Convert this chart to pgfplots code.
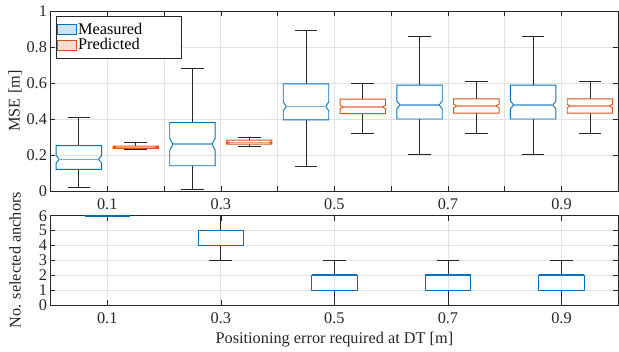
\documentclass[border=0pt]{standalone}
\usepackage{fontspec}
\setmainfont{Liberation Serif}
\usepackage{pgfplots}
\pgfplotsset{compat=1.18}
\definecolor{mblue}{RGB}{0,114,189}
\definecolor{morange}{RGB}{217,83,25}
\definecolor{axgray}{RGB}{38,38,38}
\definecolor{gridgray}{RGB}{226,226,226}

\pgfplotsset{
  whisk/.style={draw=axgray, line width=0.8pt, forget plot},
  mystyle/.style={
    scale only axis, width=567.8pt, xmin=0, xmax=10, clip=false,
    tick align=inside, major tick length=5pt,
    tick style={axgray, line width=0.6pt},
    axis line style={axgray, line width=0.8pt},
    grid=major, grid style={gridgray, line width=0.7pt},
    tick label style={font=\fontsize{16.3}{19}\selectfont, text=axgray},
    label style={font=\fontsize{16.3}{19}\selectfont, text=axgray},
    xticklabel style={yshift=-4.6pt},
    /pgf/number format/assume math mode=true,
    ylabel style={at={(axis description cs:-0.0625,0.5)}, anchor=center},
  }
}

% notched box: pos, colour, lower whisker, q1, median, q3, upper whisker, notch half-height
\newcommand{\nbox}[8]{%
  \pgfmathsetmacro\bxL{#1-0.4}\pgfmathsetmacro\bxR{#1+0.4}%
  \pgfmathsetmacro\bxLi{#1-0.345}\pgfmathsetmacro\bxRi{#1+0.345}%
  \pgfmathsetmacro\bxCL{#1-0.2}\pgfmathsetmacro\bxCR{#1+0.2}%
  \pgfmathsetmacro\bxNL{#5-#8}\pgfmathsetmacro\bxNH{#5+#8}%
  \addplot[whisk] coordinates {(#1,#4) (#1,#3)};
  \addplot[whisk] coordinates {(#1,#6) (#1,#7)};
  \addplot[whisk] coordinates {(\bxCL,#3) (\bxCR,#3)};
  \addplot[whisk] coordinates {(\bxCL,#7) (\bxCR,#7)};
  \addplot[draw=#2, line width=0.9pt, forget plot] coordinates {(\bxL,#4) (\bxR,#4) (\bxR,\bxNL) (\bxRi,#5) (\bxR,\bxNH) (\bxR,#6) (\bxL,#6) (\bxL,\bxNH) (\bxLi,#5) (\bxL,\bxNL)} -- cycle;
  \addplot[draw=#2!55, line width=1.6pt, forget plot] coordinates {(\bxLi,#5) (\bxRi,#5)};
}
% plain box: pos, colour, lower whisker, q1, median, q3, upper whisker
\newcommand{\pbox}[7]{%
  \pgfmathsetmacro\bxL{#1-0.4}\pgfmathsetmacro\bxR{#1+0.4}%
  \pgfmathsetmacro\bxCL{#1-0.2}\pgfmathsetmacro\bxCR{#1+0.2}%
  \addplot[whisk] coordinates {(#1,#4) (#1,#3)};
  \addplot[whisk] coordinates {(#1,#6) (#1,#7)};
  \addplot[whisk] coordinates {(\bxCL,#3) (\bxCR,#3)};
  \addplot[whisk] coordinates {(\bxCL,#7) (\bxCR,#7)};
  \addplot[draw=#2, line width=0.9pt, forget plot] coordinates {(\bxL,#4) (\bxR,#4) (\bxR,#6) (\bxL,#6)} -- cycle;
  \addplot[draw=#2, line width=1.8pt, forget plot] coordinates {(\bxL,#5) (\bxR,#5)};
}

\begin{document}
\begin{tikzpicture}
\useasboundingbox (0,0) rectangle (619pt,352pt);
\begin{axis}[mystyle,
  at={(50.5pt,161pt)}, anchor=south west, height=180pt,
  ymin=0, ymax=1,
  xtick={1,2,3,4,5,6,7,8,9}, xticklabels={0.1,{},0.3,{},0.5,{},0.7,{},0.9},
  ytick={0,0.2,0.4,0.6,0.8,1}, yticklabels={0,0.2,0.4,0.6,0.8,1},
  ylabel={MSE [m]},
  legend style={at={(axis description cs:0.0097,0.972)}, anchor=north west,
    draw=axgray, line width=0.6pt, fill=white, font=\fontsize{16.3}{19}\selectfont,
    inner xsep=1pt, inner ysep=5pt, row sep=-1.5pt, cells={anchor=west},
    /tikz/every odd column/.append style={column sep=-1pt}},
  legend image code/.code={\draw[#1] (0pt,-5pt) rectangle (19pt,5pt);},
]
\addlegendimage{draw=mblue, fill=mblue!20, line width=0.8pt}
\addlegendentry{\makebox[100pt][l]{Measured}}
\addlegendimage{draw=morange, fill=morange!20, line width=0.8pt}
\addlegendentry{\makebox[100pt][l]{Predicted}}
% Measured (blue)
\nbox{0.5}{mblue}{0.022}{0.120}{0.176}{0.252}{0.409}{0.021}
\nbox{2.5}{mblue}{0.010}{0.140}{0.260}{0.380}{0.680}{0.033}
\nbox{4.5}{mblue}{0.135}{0.395}{0.470}{0.595}{0.890}{0.024}
\nbox{6.5}{mblue}{0.205}{0.400}{0.478}{0.588}{0.857}{0.022}
\nbox{8.5}{mblue}{0.205}{0.400}{0.478}{0.588}{0.857}{0.022}
% Predicted (orange)
\nbox{1.5}{morange}{0.232}{0.236}{0.243}{0.250}{0.268}{0.003}
\nbox{3.5}{morange}{0.245}{0.260}{0.270}{0.283}{0.300}{0.004}
\nbox{5.5}{morange}{0.320}{0.430}{0.467}{0.510}{0.600}{0.010}
\nbox{7.5}{morange}{0.320}{0.433}{0.472}{0.512}{0.610}{0.010}
\nbox{9.5}{morange}{0.320}{0.433}{0.472}{0.512}{0.610}{0.010}
\end{axis}

\begin{axis}[mystyle,
  at={(50.5pt,47pt)}, anchor=south west, height=89.3pt,
  ymin=0, ymax=6,
  xtick={1,3,5,7,9}, xticklabels={0.1,0.3,0.5,0.7,0.9},
  ytick={0,1,2,3,4,5,6},
  xlabel={Positioning error required at DT [m]},
  xlabel style={at={(axis description cs:0.5,-0.392)}, anchor=center},
  ylabel={No. selected anchors},
]
\pbox{1}{mblue}{6}{6}{6}{6}{6}
\pbox{3}{mblue}{3}{4}{5}{5}{6}
\pbox{5}{mblue}{0}{1}{2}{2}{3}
\pbox{7}{mblue}{0}{1}{2}{2}{3}
\pbox{9}{mblue}{0}{1}{2}{2}{3}
\end{axis}
\end{tikzpicture}
\end{document}
